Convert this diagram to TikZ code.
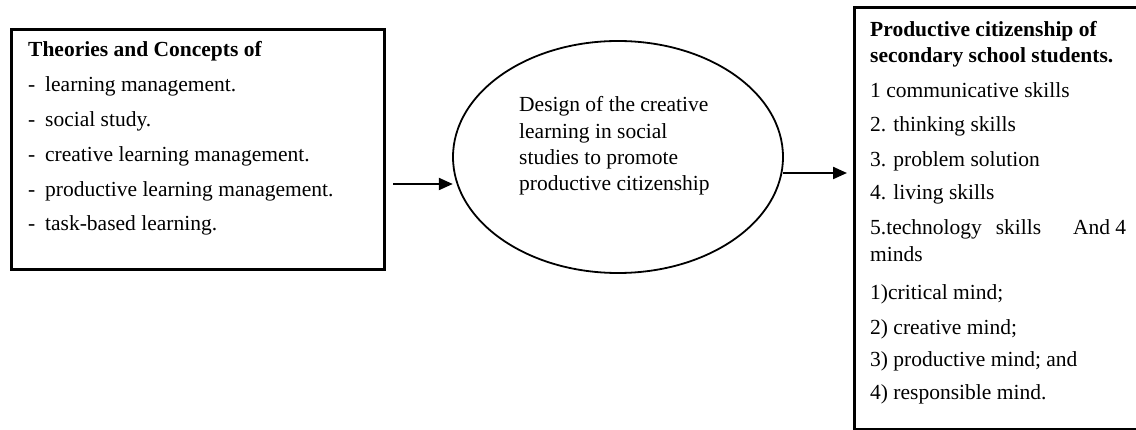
\documentclass[tikz,border=0pt]{standalone}
\usepackage{fontspec}
\setmainfont{Liberation Serif}
\usetikzlibrary{arrows.meta}
\begin{document}
\begin{tikzpicture}[x=1pt,y=-1pt,
  txt/.style={inner sep=0pt,anchor=base west,font=\fontsize{21.5}{26}\selectfont},
  frame/.style={draw,line width=2.6pt,inner sep=0pt,anchor=north west},
  arr/.style={line width=2.2pt,-{Triangle[length=14pt,width=12pt]}}]
\useasboundingbox (0,0) rectangle (1136,430);
\clip (0,0) rectangle (1136,430);

% left box: theories and concepts
\node[frame,minimum width=373pt,minimum height=240pt] (lbox) at (10,28) {};
\node[txt] (l0) at (28,57) {\bfseries Theories and Concepts of};
\node[txt] (l1) at (28,92) {\makebox[17pt][l]{-}learning management.};
\node[txt] (l2) at (28,127) {\makebox[17pt][l]{-}social study.};
\node[txt] (l3) at (28,162) {\makebox[17pt][l]{-}creative learning management.};
\node[txt] (l4) at (28,197) {\makebox[17pt][l]{-}productive learning management.};
\node[txt] (l5) at (28,231) {\makebox[17pt][l]{-}task-based learning.};

% central ellipse
\draw[line width=1.8pt] (618,157) ellipse [x radius=165pt, y radius=116pt];
\node[inner sep=0pt,minimum width=330pt,minimum height=232pt] (ell) at (618,157) {};
\node[txt] (e1) at (519,112) {Design of the creative};
\node[txt] (e2) at (519,139) {learning in social};
\node[txt] (e3) at (519,165) {studies to promote};
\node[txt] (e4) at (519,191) {productive citizenship};

% right box: productive citizenship
\node[frame,minimum width=300pt,minimum height=422pt] (rbox) at (853,6) {};
\node[txt] (r0) at (870,37) {\bfseries Productive citizenship of};
\node[txt] (r1) at (870,63) {\bfseries secondary school students.};
\node[txt] (r2) at (870,98) {1 communicative skills};
\node[txt] (r3) at (870,132) {2. thinking skills};
\node[txt] (r4) at (870,167) {3. problem solution};
\node[txt] (r5) at (870,200) {4. living skills};
\node[txt] (r6) at (870,235) {\makebox[256pt][l]{5.technology\hspace{14pt}skills\hfill And 4}};
\node[txt] (r7) at (870,262) {minds};
\node[txt] (r8) at (870,300) {1)critical mind;};
\node[txt] (r9) at (870,335) {2) creative mind;};
\node[txt] (r10) at (870,367) {3) productive mind; and};
\node[txt] (r11) at (870,400) {4) responsible mind.};

% connectors
\coordinate (a1) at (393,184);
\coordinate (a2) at (847,173);
\draw[arr] (a1) -- (a1 -| ell.west);
\draw[arr] (ell.east |- a2) -- (a2);
\end{tikzpicture}
\end{document}
